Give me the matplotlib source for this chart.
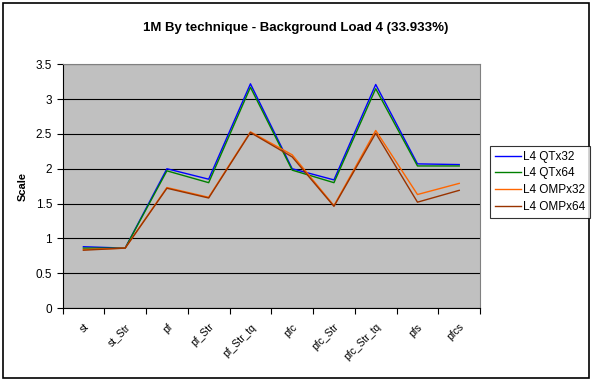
import matplotlib
matplotlib.use("Agg")
import matplotlib.pyplot as plt
from matplotlib.patches import Rectangle

plt.rcParams['font.family'] = ['Liberation Sans', 'DejaVu Sans']

categories = ["st", "st_Str", "pf", "pf_Str", "pf_Str_tq", "pfc", "pfc_Str",
              "pfc_Str_tq", "pfs", "pfcs"]
qt32 = [0.88, 0.86, 2.00, 1.85, 3.22, 2.00, 1.84, 3.21, 2.07, 2.06]
qt64 = [0.86, 0.86, 1.97, 1.80, 3.17, 1.98, 1.80, 3.15, 2.04, 2.04]
omp32 = [0.84, 0.86, 1.73, 1.59, 2.53, 2.20, 1.47, 2.55, 1.63, 1.79]
omp64 = [0.83, 0.86, 1.72, 1.58, 2.52, 2.17, 1.46, 2.51, 1.52, 1.69]
series_names = ["L4 QTx32", "L4 QTx64", "L4 OMPx32", "L4 OMPx64"]
series_colors = ["#0000FF", "#008000", "#FF6600", "#993300"]
yticks = [0, 0.5, 1, 1.5, 2, 2.5, 3, 3.5]

fig = plt.figure(figsize=(5.92, 3.81), dpi=100)
ax = fig.add_axes([0.1056, 0.1916, 0.7054, 0.6396])
ax.set_facecolor("#C0C0C0")

x = list(range(len(categories)))
for vals, name, col in zip([qt32, qt64, omp32, omp64], series_names, series_colors):
    ax.plot(x, vals, color=col, lw=1.0, label=name)

ax.set_xlim(-0.5, len(categories) - 0.5)
ax.set_ylim(0, 3.5)
ax.set_yticks(yticks)
ax.set_yticklabels([f"{v:g}" for v in yticks], fontsize=8.5)
ax.yaxis.grid(True, color="black", lw=0.8)
ax.set_axisbelow(True)

ax.set_xticks([i - 0.5 for i in range(len(categories) + 1)])
ax.set_xticklabels([])
ax.set_xticks(x, minor=True)
ax.set_xticklabels(categories, minor=True, rotation=45, ha="right",
                   rotation_mode="anchor", fontsize=7.5)
ax.tick_params(axis="x", which="minor", length=0, pad=10)
ax.tick_params(axis="x", which="major", length=4, direction="out", color="black")
ax.tick_params(axis="y", length=4, direction="out", color="black")

for side in ["top", "right"]:
    ax.spines[side].set_color("#808080")
    ax.spines[side].set_linewidth(0.8)
for side in ["left", "bottom"]:
    ax.spines[side].set_color("black")
    ax.spines[side].set_linewidth(0.8)

ax.set_ylabel("Scale", fontsize=8, fontweight="bold", labelpad=6)
fig.text(0.5, 1 - 28 / 381, "1M By technique - Background Load 4 (33.933%)",
         ha="center", va="center", fontsize=9.5, fontweight="bold")

leg = fig.legend(loc="upper left", bbox_to_anchor=(490 / 592, 1 - 146 / 381),
                 fontsize=8.5, frameon=True, fancybox=False, handlelength=2.2,
                 handletextpad=0.2, borderpad=0.4, labelspacing=0.4,
                 borderaxespad=0)
leg.get_frame().set_edgecolor("black")
leg.get_frame().set_linewidth(0.8)

fig.patches.append(Rectangle((3 / 592, 3 / 381), 586 / 592, 375 / 381,
                             transform=fig.transFigure, fill=False,
                             edgecolor="black", lw=1.2))

fig.savefig("out.png", dpi=100)
